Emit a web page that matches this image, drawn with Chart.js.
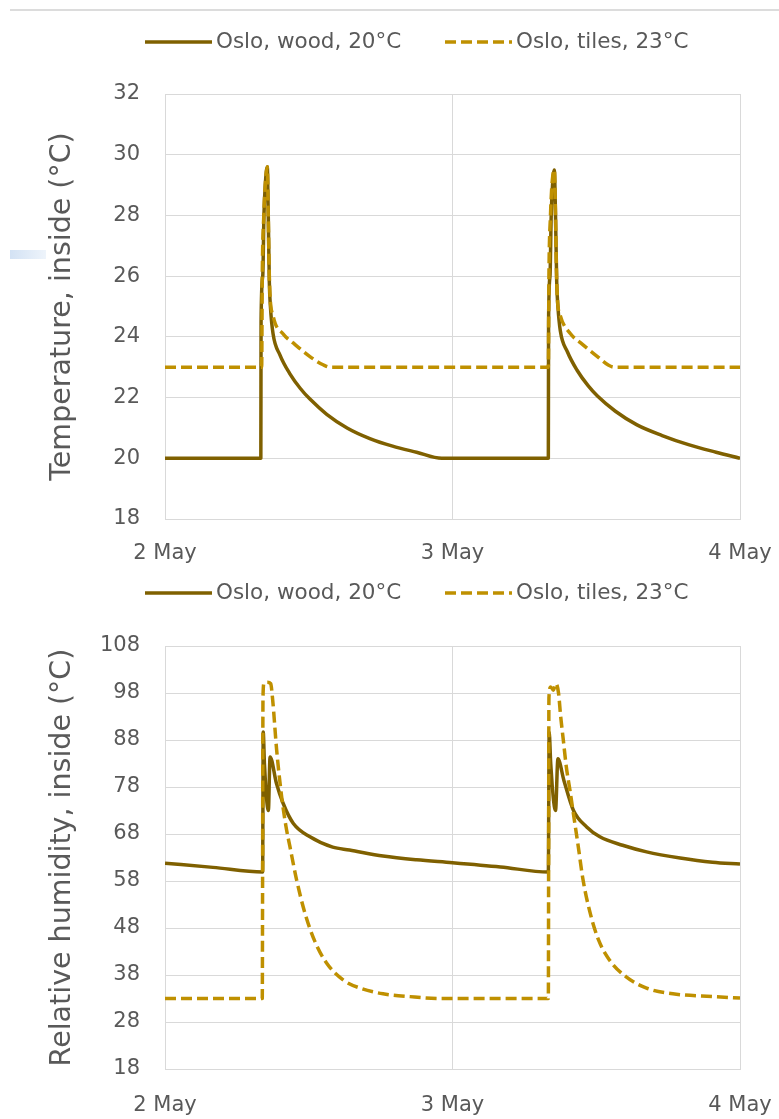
<!DOCTYPE html>
<html>
<head>
<meta charset="utf-8">
<title>Oslo – inside temperature and relative humidity</title>
<script src="https://cdn.jsdelivr.net/npm/chart.js@4.4.1/dist/chart.umd.min.js"></script>
<style>
  html, body { margin: 0; padding: 0; background: #fff; }
  body { width: 779px; height: 1119px; position: relative; overflow: hidden; }
  #topRule { position: absolute; left: 10px; top: 9px; width: 769px; height: 2px; background: #dcdcdc; }
  #mark { position: absolute; left: 10px; top: 250px; width: 36px; height: 9px;
          background: linear-gradient(to right, #d3e2f4, #eef4fb); }
  canvas { position: absolute; left: 0; }
</style>
</head>
<body>
<div id="topRule"></div>
<div id="mark"></div>
<canvas id="tempChart" width="779" height="572" style="top:0"></canvas>
<canvas id="rhChart" width="779" height="547" style="top:572px"></canvas>
<script>
// x values are hours after 2 May 00:00
const dayLabels = ['2 May', '3 May', '4 May'];
const seriesNames = ['Oslo, wood, 20°C', 'Oslo, tiles, 23°C'];

const tempTicks = [18, 20, 22, 24, 26, 28, 30, 32];
const rhTicks = [18, 28, 38, 48, 58, 68, 78, 88, 98, 108];

// inside temperature (°C)
const tempWoodHours = [0, 8.0, 8.02, 8.16, 8.26, 8.37, 8.54, 8.62, 8.71, 8.8,
  9.02, 9.6, 10.4, 11.3, 12.1, 13.5, 15.2, 17.1, 19.0, 21.0,
  23.1, 32.0, 32.02, 32.14, 32.24, 32.35, 32.5, 32.6, 32.7, 32.8,
  33.0, 33.6, 34.4, 35.3, 36.1, 37.6, 39.4, 41.5, 43.7, 46.0,
  48.0];
const tempWoodValues = [20, 20, 24.5, 26, 28, 29, 29.6, 28, 25.8, 25,
  24.1, 23.4, 22.8, 22.3, 21.95, 21.45, 21.0, 20.65, 20.4, 20.2,
  20.0, 20.0, 24.5, 26, 28, 29, 29.5, 28, 25.8, 25,
  24.2, 23.5, 22.9, 22.4, 22.05, 21.55, 21.1, 20.75, 20.45, 20.2,
  20.0];

const tempTilesHours = [0, 8.07, 8.12, 8.25, 8.37, 8.54, 8.62, 8.68, 8.75, 9.02,
  9.85, 10.7, 12.1, 13.2, 13.8, 32.0, 32.05, 32.18, 32.3, 32.5,
  32.6, 32.66, 32.75, 33.0, 33.85, 34.7, 36.1, 37.0, 37.5, 48.0];
const tempTilesValues = [23, 23, 26, 28, 29, 29.6, 28, 26.5, 25.5, 24.7,
  24.1, 23.8, 23.35, 23.08, 23.0, 23.0, 26, 28, 29, 29.5,
  28, 26.5, 25.3, 24.7, 24.1, 23.8, 23.35, 23.07, 23.0, 23.0];

// inside relative humidity
const rhWoodHours = [0, 4, 8.15, 8.2, 8.3, 8.63, 8.77, 9.3, 9.85, 10.7,
  12.1, 14.0, 15.4, 18.2, 21.0, 24.0, 28.0, 32.0, 32.07, 32.2,
  32.6, 32.8, 33.3, 34.1, 35.2, 36.3, 38.2, 40.2, 43.0, 45.7,
  48.0];
const rhWoodValues = [61.8, 60.9, 59.9, 89.7, 83.0, 73.0, 84.4, 78.8, 74.6, 70.3,
  67.4, 65.2, 64.6, 63.3, 62.5, 61.9, 61.0, 59.9, 89.7, 83.0,
  73.0, 84.0, 79.4, 73.0, 69.5, 67.4, 65.6, 64.2, 62.9, 62.0,
  61.6];

const rhTilesHours = [0, 8.12, 8.18, 8.26, 8.55, 8.82, 8.99, 9.32, 9.74, 10.1,
  10.43, 10.99, 11.69, 12.52, 13.5, 14.9, 16.3, 18.2, 20.45, 23.0,
  32.0, 32.05, 32.2, 32.42, 32.64, 32.85, 33.03, 33.25, 33.5, 33.8,
  34.17, 34.5, 34.9, 35.5, 36.2, 37.1, 38.5, 40.2, 42.4, 45.8,
  48.0];
const rhTilesValues = [33, 33, 97, 100, 100.3, 100, 96.5, 85.9, 75.9, 69.6,
  65.3, 58.2, 51.1, 45.1, 40.5, 36.9, 35.2, 34.0, 33.4, 33.0,
  33.0, 97, 99.3, 98.6, 100, 98, 93, 88, 82.3, 77.4,
  71, 65.3, 58.2, 51.1, 45.4, 41.2, 37.6, 35.2, 34.0, 33.4,
  33.1];

const WOOD = '#7f6000';
const TILES = '#bf9000';
const GRID = '#d9d9d9';
const TEXT = '#595959';
const FAMILY = "'DejaVu Sans', sans-serif";

function toPoints(hours, values) {
    return hours.map((h, i) => ({ x: h, y: values[i] }));
}

// legend with a line sample in front of each series name
const lineLegend = {
    id: 'lineLegend',
    afterDraw(chart, args, opts) {
        const ctx = chart.ctx;
        ctx.save();
        ctx.font = opts.size + 'px ' + FAMILY;
        ctx.textBaseline = 'middle';
        chart.data.datasets.forEach((ds, i) => {
            const x = opts.starts[i];
            ctx.beginPath();
            ctx.lineWidth = ds.borderWidth;
            ctx.strokeStyle = ds.borderColor;
            ctx.setLineDash(ds.borderDash || []);
            ctx.moveTo(x, opts.y);
            ctx.lineTo(x + opts.sample, opts.y);
            ctx.stroke();
            ctx.fillStyle = TEXT;
            ctx.fillText(ds.label, x + opts.sample + opts.gap, opts.y);
        });
        ctx.restore();
    }
};

function makeChart(id, cfg) {
    const last = cfg.ticks.length - 1;
    return new Chart(document.getElementById(id), {
        type: 'line',
        data: {
            datasets: [{
                label: seriesNames[0],
                data: toPoints(cfg.woodHours, cfg.woodValues),
                borderColor: WOOD,
                borderWidth: 3.5,
                order: 1
            }, {
                label: seriesNames[1],
                data: toPoints(cfg.tilesHours, cfg.tilesValues),
                borderColor: TILES,
                borderWidth: 3.5,
                borderDash: [11, 5],
                order: 0
            }]
        },
        options: {
            responsive: false,
            animation: false,
            events: [],
            layout: { padding: { top: cfg.top, right: 39, left: 0, bottom: 0 } },
            elements: {
                point: { radius: 0 },
                line: { cubicInterpolationMode: 'monotone', borderJoinStyle: 'round', fill: false }
            },
            plugins: {
                legend: { display: false },
                tooltip: { enabled: false },
                lineLegend: { y: cfg.legendY, starts: [145, 445], sample: 67, gap: 4, size: 21.5 }
            },
            scales: {
                x: {
                    type: 'linear',
                    min: 0,
                    max: 48,
                    afterBuildTicks: s => { s.ticks = dayLabels.map((_, i) => ({ value: i * 24 })); },
                    afterFit: s => {
                        s.height = cfg.xHeight;
                        s.paddingLeft = 0;
                        s.paddingRight = 0;
                    },
                    ticks: {
                        callback: (v, i) => dayLabels[i],
                        padding: cfg.xPad,
                        color: TEXT,
                        font: { family: FAMILY, size: 21 },
                        maxRotation: 0,
                        autoSkip: false
                    },
                    grid: { color: GRID, drawTicks: false },
                    border: { color: GRID }
                },
                y: {
                    min: cfg.ticks[0],
                    max: cfg.ticks[last],
                    afterBuildTicks: s => { s.ticks = cfg.ticks.map(v => ({ value: v })); },
                    afterFit: s => {
                        s.width = 165;
                        s.paddingTop = 0;
                        s.paddingBottom = 0;
                    },
                    ticks: { padding: 25, color: TEXT, font: { family: FAMILY, size: 21 } },
                    grid: { color: GRID, drawTicks: false },
                    border: { color: GRID },
                    title: {
                        display: true,
                        text: cfg.title,
                        color: TEXT,
                        font: { family: FAMILY, size: 28.5 },
                        padding: { top: 45, bottom: 0 }
                    }
                }
            }
        },
        plugins: [lineLegend]
    });
}

makeChart('tempChart', {
    title: 'Temperature, inside (°C)',
    ticks: tempTicks,
    woodHours: tempWoodHours, woodValues: tempWoodValues,
    tilesHours: tempTilesHours, tilesValues: tempTilesValues,
    top: 94, xHeight: 53, xPad: 22, legendY: 42
});

makeChart('rhChart', {
    title: 'Relative humidity, inside (°C)',
    ticks: rhTicks,
    woodHours: rhWoodHours, woodValues: rhWoodValues,
    tilesHours: rhTilesHours, tilesValues: rhTilesValues,
    top: 74, xHeight: 50, xPad: 24, legendY: 21
});
</script>
</body>
</html>
